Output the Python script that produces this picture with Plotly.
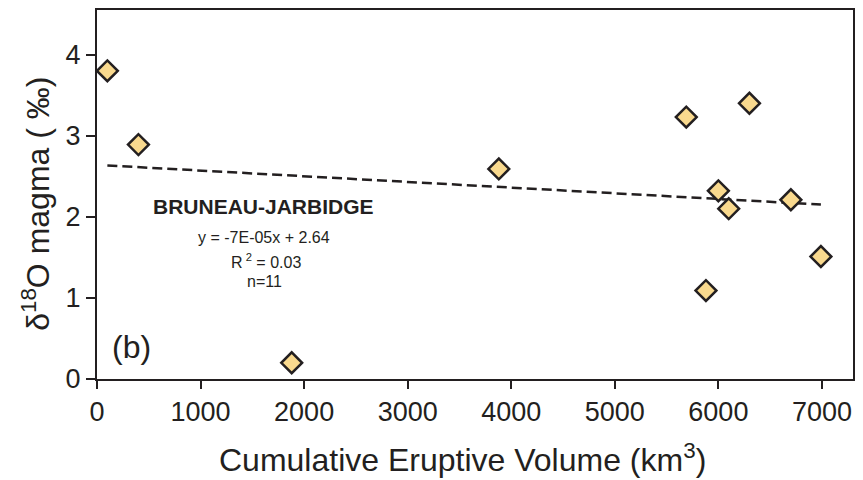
import numpy as np
import plotly.graph_objects as go

# Data
volume_km3 = [100, 400, 1880, 3880, 5690, 6300, 6000, 6100, 6700, 6990, 5880]
d18o_magma = [3.80, 2.89, 0.20, 2.59, 3.23, 3.40, 2.32, 2.10, 2.21, 1.51, 1.09]

# Regression reported on the chart
slope = -7e-05
intercept = 2.64
x_ticks = [0, 1000, 2000, 3000, 4000, 5000, 6000, 7000]
y_ticks = [0, 1, 2, 3, 4]

fit_x = np.array([min(volume_km3), max(volume_km3)], dtype=float)
fit_y = slope * fit_x + intercept

FONT = "Liberation Sans, Arial, sans-serif"
INK = "#231f20"

fig = go.Figure()
fig.add_trace(go.Scatter(
    x=fit_x, y=fit_y, mode="lines",
    line=dict(color=INK, width=2.5, dash="10px,5px"),
    hoverinfo="skip", showlegend=False,
))
fig.add_trace(go.Scatter(
    x=volume_km3, y=d18o_magma, mode="markers",
    marker=dict(symbol="diamond", size=16, color="#F9D98E",
                line=dict(color=INK, width=2.5)),
    showlegend=False,
))

def note(x, y, text, size, angle=0):
    fig.add_annotation(x=x, y=y, xref="paper", yref="paper", text=text,
                       showarrow=False, xanchor="center", yanchor="middle",
                       textangle=angle,
                       font=dict(family=FONT, size=size, color=INK))

note(0.046, 0.086, "(b)", 32)
note(0.2196, 0.468, "<b>BRUNEAU-JARBIDGE</b>", 21)
note(0.2209, 0.383, "y = -7E-05x + 2.64", 16)
note(0.2235, 0.321, "R<sup> 2</sup> = 0.03", 16)
note(0.2209, 0.264, "n=11", 16)

# axis titles
note(0.483, -0.213, "Cumulative Eruptive Volume (km<sup>3</sup>)", 32)
note(-0.081, 0.474, "δ<sup>18</sup>O magma ( ‰)", 32, angle=-90)

fig.update_layout(
    width=863, height=480,
    margin=dict(l=97, r=10, t=8, b=101),
    paper_bgcolor="white", plot_bgcolor="white",
    font=dict(family=FONT, color=INK),
    xaxis=dict(
        range=[0, 7300], tickvals=x_ticks, ticks="outside", ticklen=8,
        tickwidth=2, tickcolor=INK, showline=True, linewidth=2, linecolor=INK,
        mirror=True, showgrid=False, zeroline=False,
        tickfont=dict(family=FONT, size=27, color=INK),
    ),
    yaxis=dict(
        range=[0, 4.55], tickvals=y_ticks, ticks="outside", ticklen=9,
        tickwidth=2, tickcolor=INK, showline=True, linewidth=2, linecolor=INK,
        mirror=True, showgrid=False, zeroline=False,
        tickfont=dict(family=FONT, size=27, color=INK),
    ),
)

fig.write_html("out.html")
